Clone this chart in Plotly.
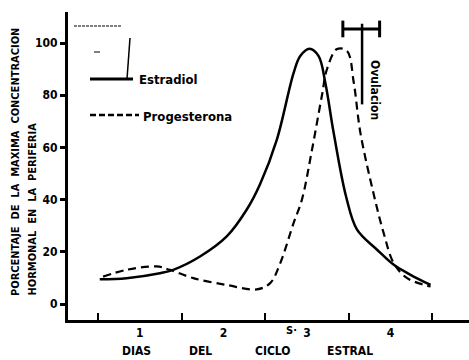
import plotly.graph_objects as go

# ---- data ----
estradiol_x = [0.52, 0.84, 1.24, 1.40, 1.72, 2.04, 2.28, 2.44, 2.64, 2.84, 2.92, 3.03, 3.14, 3.22, 3.32, 3.47, 3.60, 3.84, 4.04, 4.24, 4.48]
estradiol_y = [9.5, 9.9, 11.8, 13.1, 18.2, 25.9, 36.2, 46.0, 63.0, 88.5, 95.0, 97.8, 95.0, 84.8, 65.6, 41.0, 28.5, 20.8, 15.0, 11.2, 7.3]

progest_x = [0.56, 0.84, 1.20, 1.36, 1.64, 2.04, 2.40, 2.56, 2.68, 2.84, 2.94, 3.06, 3.18, 3.24, 3.36, 3.48, 3.56, 3.64, 3.80, 3.92, 4.04, 4.20, 4.48]
progest_y = [10.5, 13.1, 14.4, 13.1, 9.9, 7.3, 5.6, 8.0, 15.6, 31.0, 40.0, 59.0, 80.0, 90.0, 97.7, 97.0, 85.0, 65.6, 42.0, 27.0, 15.6, 9.9, 6.7]

ovulation_range = [3.43, 3.87]
ovulation_center = 3.66
ovulation_top = 105.4
ovulation_bottom = 76.5

x_tick_vals = [1, 2, 3, 4]
x_tick_text = ["1", "2", "3", "4"]
x_minor_ticks = [0.5, 1.5, 2.5, 3.5, 4.5]
y_tick_vals = [0, 20, 40, 60, 80, 100]
y_tick_text = ["0", "20", "40", "60", "80", "100"]

FONT = "DejaVu Sans Condensed, sans-serif"

W, H = 469, 360
L, R, T, B = 68, 0, 12, 40


def px_x(px):
    return (px - L) / (W - L - R)


def px_y(py):
    return (H - B - py) / (H - T - B)


fig = go.Figure()

fig.add_trace(go.Scatter(x=estradiol_x, y=estradiol_y, mode="lines",
                         line=dict(color="black", width=2.5, shape="spline", smoothing=1.0),
                         name="Estradiol", showlegend=False))
fig.add_trace(go.Scatter(x=progest_x, y=progest_y, mode="lines",
                         line=dict(color="black", width=2.2, shape="spline", smoothing=1.0, dash="8px,5px"),
                         name="Progesterona", showlegend=False))

# ovulation marker (I-beam)
fig.add_trace(go.Scatter(x=[ovulation_range[0], ovulation_range[1]], y=[ovulation_top, ovulation_top],
                         mode="lines", line=dict(color="black", width=3), showlegend=False))
fig.add_trace(go.Scatter(x=[ovulation_range[0], ovulation_range[0], None, ovulation_range[1], ovulation_range[1]],
                         y=[ovulation_top - 3.2, ovulation_top + 3.2, None, ovulation_top - 3.2, ovulation_top + 3.2],
                         mode="lines", line=dict(color="black", width=3), showlegend=False))
fig.add_trace(go.Scatter(x=[ovulation_center, ovulation_center], y=[ovulation_top + 2, ovulation_bottom],
                         mode="lines", line=dict(color="black", width=2.5), showlegend=False))

shapes = []
# legend samples
shapes.append(dict(type="line", xref="paper", yref="paper", x0=px_x(90), x1=px_x(133), y0=px_y(79), y1=px_y(79),
                   line=dict(color="black", width=3)))
shapes.append(dict(type="line", xref="paper", yref="paper", x0=px_x(130), x1=px_x(127), y0=px_y(38), y1=px_y(79),
                   line=dict(color="black", width=1.5)))
shapes.append(dict(type="line", xref="paper", yref="paper", x0=px_x(90), x1=px_x(139), y0=px_y(115), y1=px_y(115),
                   line=dict(color="black", width=2.5, dash="6px,3px")))
# scan artifacts near top-left
shapes.append(dict(type="line", xref="paper", yref="paper", x0=px_x(74), x1=px_x(122), y0=px_y(26), y1=px_y(26),
                   line=dict(color="black", width=1, dash="3px,1px")))
shapes.append(dict(type="line", xref="paper", yref="paper", x0=px_x(94), x1=px_x(100), y0=px_y(52), y1=px_y(52),
                   line=dict(color="black", width=1)))

ann = []
ann.append(dict(text="<b>Estradiol</b>", xref="paper", yref="paper", x=px_x(137), y=px_y(80),
                xanchor="left", yanchor="middle", showarrow=False, font=dict(family=FONT, size=13, color="black")))
ann.append(dict(text="<b>Progesterona</b>", xref="paper", yref="paper", x=px_x(141), y=px_y(116),
                xanchor="left", yanchor="middle", showarrow=False, font=dict(family=FONT, size=13, color="black")))
ann.append(dict(text="<b>Ovulacion</b>", xref="paper", yref="paper", x=px_x(375), y=px_y(90),
                xanchor="center", yanchor="middle", textangle=90, showarrow=False,
                font=dict(family=FONT, size=12, color="black")))
ann.append(dict(text="<b>PORCENTAJE  DE  LA  MAXIMA  CONCENTRACION</b>", xref="paper", yref="paper",
                x=px_x(15), y=px_y(298), xanchor="center", yanchor="bottom", textangle=-90, showarrow=False,
                font=dict(family=FONT, size=11, color="black")))
ann.append(dict(text="<b>HORMONAL  EN  LA  PERIFERIA</b>", xref="paper", yref="paper",
                x=px_x(32), y=px_y(298), xanchor="center", yanchor="bottom", textangle=-90, showarrow=False,
                font=dict(family=FONT, size=11, color="black")))
for word, cx in [("DIAS", 136), ("DEL", 200), ("CICLO", 272), ("ESTRAL", 350)]:
    ann.append(dict(text="<b>" + word + "</b>", xref="paper", yref="paper", x=px_x(cx), y=px_y(351),
                    xanchor="center", yanchor="middle", showarrow=False,
                    font=dict(family=FONT, size=12, color="black")))
ann.append(dict(text="<b>S·</b>", xref="paper", yref="paper", x=px_x(291), y=px_y(330),
                xanchor="center", yanchor="middle", showarrow=False,
                font=dict(family=FONT, size=11, color="black")))

fig.update_layout(
    width=W, height=H,
    margin=dict(l=L, r=R, t=T, b=B),
    paper_bgcolor="white", plot_bgcolor="white",
    showlegend=False,
    shapes=shapes, annotations=ann,
    xaxis=dict(range=[0.14, 4.94], showgrid=False, zeroline=False,
               showline=True, linecolor="black", linewidth=3,
               tickmode="array", tickvals=x_tick_vals, ticktext=["<b>%s</b>" % t for t in x_tick_text],
               ticks="", tickfont=dict(family=FONT, size=12, color="black"),
               minor=dict(tickmode="array", tickvals=x_minor_ticks, ticks="inside", ticklen=7,
                          tickwidth=2, tickcolor="black", showgrid=False)),
    yaxis=dict(range=[-6.13, 111.9], showgrid=False, zeroline=False,
               showline=True, linecolor="black", linewidth=3,
               tickmode="array", tickvals=y_tick_vals, ticktext=["<b>%s</b>" % t for t in y_tick_text],
               ticks="outside", ticklen=5, tickwidth=2.5, tickcolor="black",
               tickfont=dict(family=FONT, size=12, color="black")),
)

fig.write_html("out.html")
